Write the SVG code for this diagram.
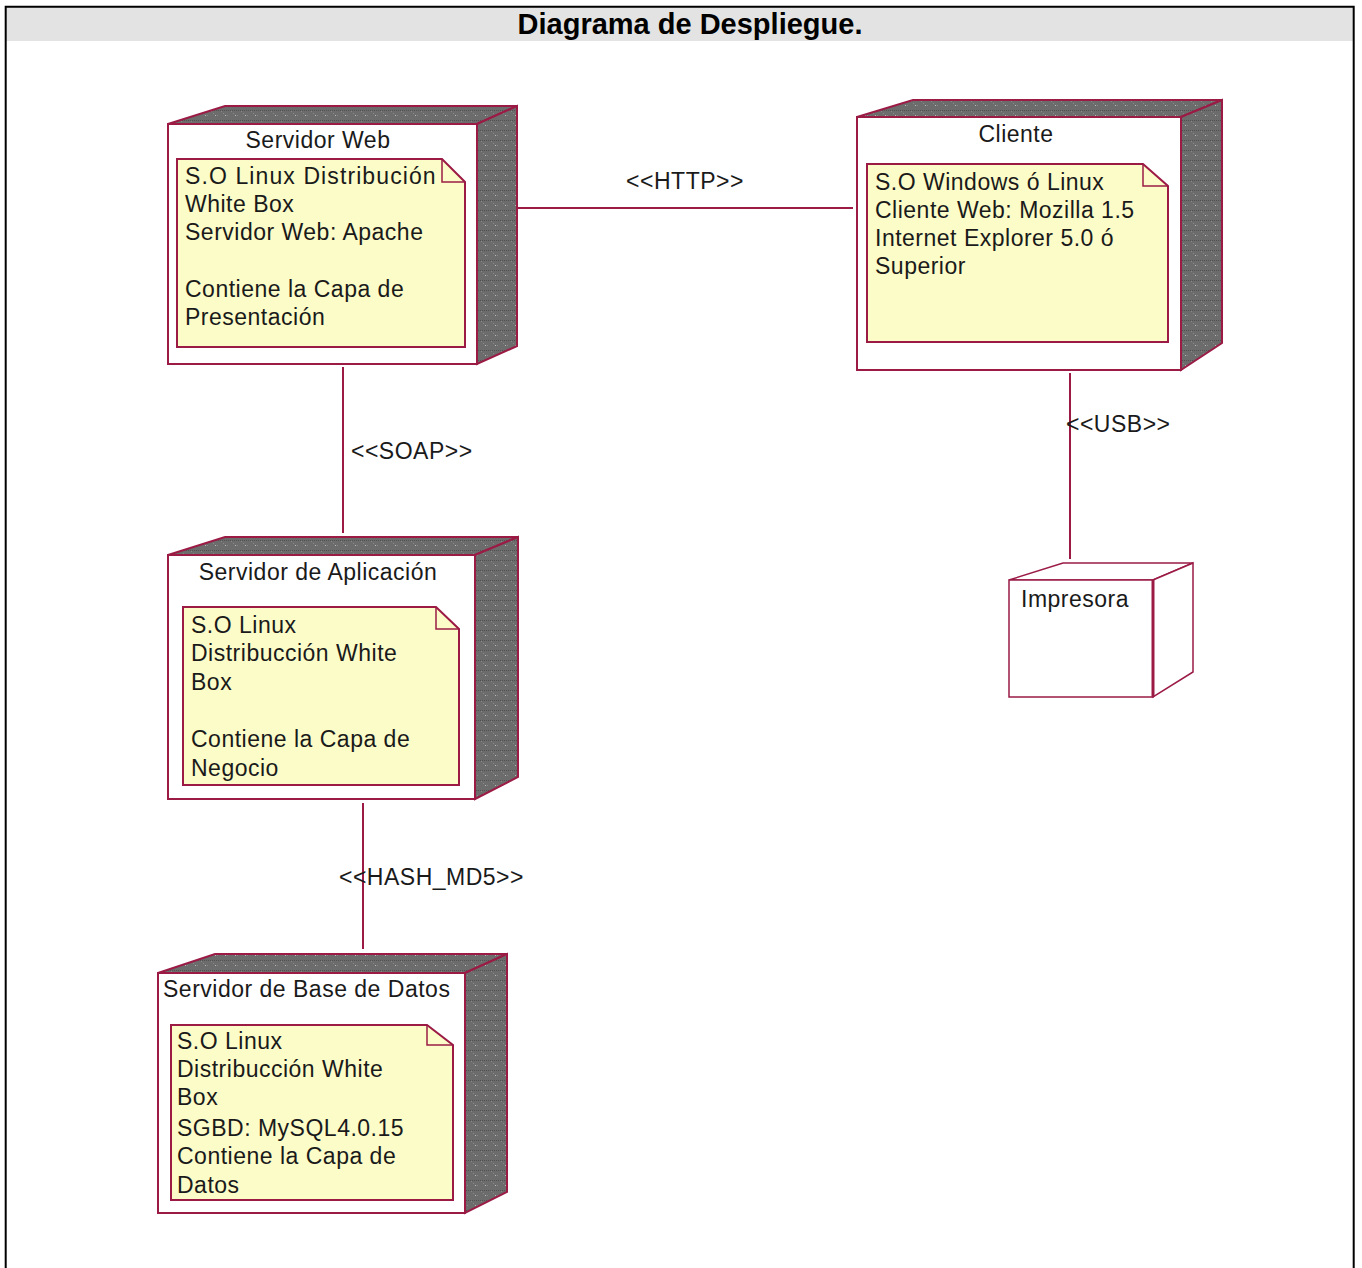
<svg xmlns="http://www.w3.org/2000/svg" width="1362" height="1268" viewBox="0 0 1362 1268">
  <defs>
    <!-- dithered dark shading for the node side faces -->
    <pattern id="shade" width="10" height="10" patternUnits="userSpaceOnUse">
      <rect width="10" height="10" fill="#6c6c6c"/>
      <rect x="0" y="0" width="1" height="1" fill="#505050"/>
      <rect x="2" y="0" width="1" height="1" fill="#505050"/>
      <rect x="4" y="0" width="1" height="1" fill="#505050"/>
      <rect x="6" y="0" width="1" height="1" fill="#505050"/>
      <rect x="8" y="0" width="1" height="1" fill="#505050"/>
      <rect x="1" y="1" width="1" height="1" fill="#8a8a8a"/>
      <rect x="3" y="3" width="1" height="1" fill="#8a8a8a"/>
      <rect x="7" y="5" width="1" height="1" fill="#8a8a8a"/>
      <rect x="5" y="5" width="1" height="1" fill="#b8b8b8"/>
    </pattern>
    <style>
      .face { fill: url(#shade); stroke: #9b1b45; stroke-width: 2; stroke-linejoin: miter; }
      .front { fill: #ffffff; stroke: #9b1b45; stroke-width: 2; }
      .plain { fill: #ffffff; stroke: #9b1b45; stroke-width: 1.5; }
      .note { fill: #fcfcc9; stroke: #9b1b45; stroke-width: 2; }
      .fold { fill: none; stroke: #9b1b45; stroke-width: 1.5; }
      .conn { stroke: #9b1b45; stroke-width: 2; fill: none; }
      .t { font-family: "Liberation Sans", Arial, sans-serif; font-size: 23px; fill: #1a1a1a; letter-spacing: 0.5px; }
      .wide { letter-spacing: 1.1px; }
      .mid { text-anchor: middle; }
      .title { font-family: "Liberation Sans", Arial, sans-serif; font-size: 29px; font-weight: bold; fill: #000; text-anchor: middle; }
    </style>
  </defs>

  <!-- page frame and title band -->
  <rect x="0" y="0" width="1362" height="1268" fill="#ffffff"/>
  <rect x="6" y="7" width="1347" height="34" fill="#e3e3e3"/>
  <path d="M5.7,1268 V6.7 H1353.7 V1268" fill="none" stroke="#000" stroke-width="2"/>
  <text class="title" x="690" y="34">Diagrama de Despliegue.</text>

  <!-- connectors -->
  <g id="connectors">
    <line class="conn" x1="517" y1="208" x2="853" y2="208"/>
    <text class="t mid" x="685" y="189">&lt;&lt;HTTP&gt;&gt;</text>
    <line class="conn" x1="343" y1="367" x2="343" y2="533"/>
    <text class="t" x="351" y="459">&lt;&lt;SOAP&gt;&gt;</text>
    <line class="conn" x1="363" y1="803" x2="363" y2="949"/>
    <text class="t" x="339" y="885">&lt;&lt;HASH_MD5&gt;&gt;</text>
    <line class="conn" x1="1070" y1="373" x2="1070" y2="559"/>
    <text class="t" x="1066" y="432">&lt;&lt;USB&gt;&gt;</text>
  </g>

  <!-- web server -->
  <g id="servidor-web">
    <polygon class="face" points="168,124 225,106 517,106 477,124"/>
    <polygon class="face" points="477,124 517,106 517,346 477,364"/>
    <rect class="front" x="168" y="124" width="309" height="240"/>
    <text class="t mid" x="318" y="148">Servidor Web</text>
    <path class="note" d="M177,159 H442 L465,182 V347 H177 Z"/>
    <path class="fold" d="M442,159 V182 H465"/>
    <text class="t wide" x="185" y="184">S.O Linux Distribución</text>
    <text class="t" x="185" y="212">White Box</text>
    <text class="t" x="185" y="240">Servidor Web: Apache</text>
    <text class="t" x="185" y="297">Contiene la Capa de</text>
    <text class="t" x="185" y="325">Presentación</text>
  </g>

  <!-- client -->
  <g id="cliente">
    <polygon class="face" points="857,117 913,100 1222,100 1181,117"/>
    <polygon class="face" points="1181,117 1222,100 1222,343 1181,370"/>
    <rect class="front" x="857" y="117" width="324" height="253"/>
    <text class="t mid" x="1016" y="142">Cliente</text>
    <path class="note" d="M867,164 H1143 L1168,186 V342 H867 Z"/>
    <path class="fold" d="M1143,164 V186 H1168"/>
    <text class="t" x="875" y="190">S.O Windows ó Linux</text>
    <text class="t" x="875" y="218">Cliente Web: Mozilla 1.5</text>
    <text class="t" x="875" y="246">Internet Explorer 5.0 ó</text>
    <text class="t" x="875" y="274">Superior</text>
  </g>

  <!-- application server -->
  <g id="servidor-aplicacion">
    <polygon class="face" points="168,555 225,537 518,537 475,555"/>
    <polygon class="face" points="475,555 518,537 518,777 475,799"/>
    <rect class="front" x="168" y="555" width="307" height="244"/>
    <text class="t mid" x="318" y="580">Servidor de Aplicación</text>
    <path class="note" d="M183,607 H436 L459,629 V785 H183 Z"/>
    <path class="fold" d="M436,607 V629 H459"/>
    <text class="t" x="191" y="633">S.O Linux</text>
    <text class="t" x="191" y="661">Distribucción White</text>
    <text class="t" x="191" y="690">Box</text>
    <text class="t" x="191" y="747">Contiene la Capa de</text>
    <text class="t" x="191" y="776">Negocio</text>
  </g>

  <!-- database server -->
  <g id="servidor-base-datos">
    <polygon class="face" points="158,973 215,954 507,954 465,973"/>
    <polygon class="face" points="465,973 507,954 507,1192 465,1213"/>
    <rect class="front" x="158" y="973" width="307" height="240"/>
    <text class="t" x="163" y="997">Servidor de Base de Datos</text>
    <path class="note" d="M171,1025 H427 L453,1045 V1200 H171 Z"/>
    <path class="fold" d="M427,1025 V1045 H453"/>
    <text class="t" x="177" y="1049">S.O Linux</text>
    <text class="t" x="177" y="1077">Distribucción White</text>
    <text class="t" x="177" y="1105">Box</text>
    <text class="t" x="177" y="1136">SGBD: MySQL4.0.15</text>
    <text class="t" x="177" y="1164">Contiene la Capa de</text>
    <text class="t" x="177" y="1193">Datos</text>
  </g>

  <!-- printer device -->
  <g id="impresora">
    <polygon class="plain" points="1009,580 1063,563 1193,563 1153,580"/>
    <polygon class="plain" points="1153,580 1193,563 1193,672 1153,697"/>
    <rect class="plain" x="1009" y="580" width="144" height="117"/>
    <line x1="1153" y1="580" x2="1153" y2="697" stroke="#9b1b45" stroke-width="3"/>
    <text class="t" x="1021" y="607">Impresora</text>
  </g>
</svg>
